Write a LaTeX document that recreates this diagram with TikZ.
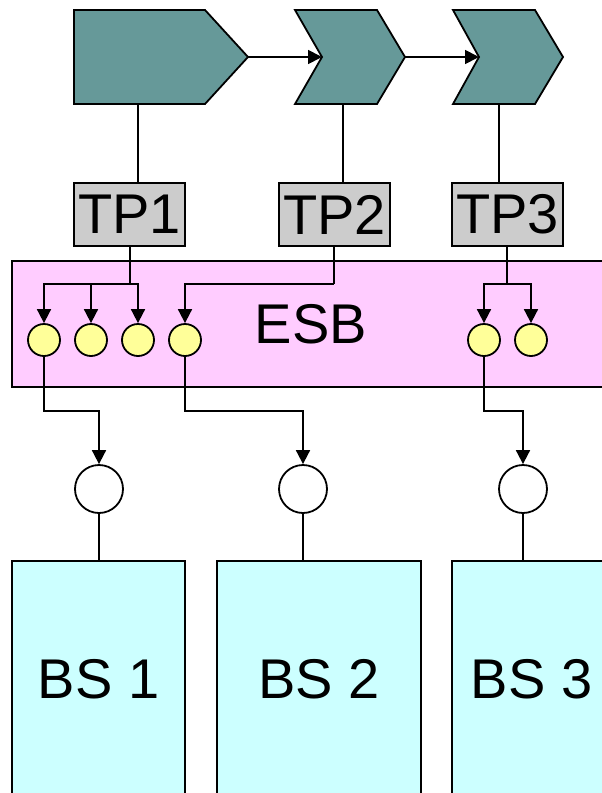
\documentclass[tikz,border=0pt]{standalone}
\usepackage{fontspec}
\setmainfont{Liberation Sans}
\usepackage{tikz}
\usepackage{xcolor}
\usetikzlibrary{arrows.meta}

\definecolor{stagecol}{RGB}{102,153,153}
\definecolor{tpcol}{RGB}{204,204,204}
\definecolor{esbcol}{RGB}{255,204,255}
\definecolor{portcol}{RGB}{255,255,153}
\definecolor{bscol}{RGB}{204,255,255}

\begin{document}
\begin{tikzpicture}[x=1pt,y=-1pt,line width=1.8pt,
    big/.style={font=\fontsize{56}{60}\selectfont,inner sep=0pt},
    stage/.style={draw,fill=stagecol,line join=miter},
    tpbox/.style={big,draw,fill=tpcol,minimum width=111pt,minimum height=63pt},
    port/.style={circle,draw,fill=portcol,minimum size=32pt,inner sep=0pt},
    endpt/.style={circle,draw,fill=white,minimum size=48pt,inner sep=0pt},
    bsbox/.style={big,draw,fill=bscol,minimum width=173pt,minimum height=236pt},
    arr/.style={-{Triangle[length=14pt,width=14pt]}}]
      \useasboundingbox (0,0) rectangle (602,793);
      \clip (0,0) rectangle (602,793);

      %draw the three stages
      \draw[stage] (74,10) -- (205,10) -- (248,57) -- (205,104) -- (74,104) -- cycle;
      \draw[stage] (295,10) -- (377,10) -- (405,57) -- (377,104) -- (295,104) -- (322,57) -- cycle;
      \draw[stage] (453,10) -- (535,10) -- (563,57) -- (535,104) -- (453,104) -- (479,57) -- cycle;

      \coordinate (S1tip) at (248,57);
      \coordinate (S2in) at (322,57);
      \coordinate (S2tip) at (405,57);
      \coordinate (S3in) at (479,57);
      \coordinate (S1bot) at (138,104);
      \coordinate (S2bot) at (343,104);
      \coordinate (S3bot) at (499,104);

      \draw[arr] (S1tip) -- (S2in);
      \draw[arr] (S2tip) -- (S3in);

      % the bus
      \node[big,draw,fill=esbcol,minimum width=598pt,minimum height=126pt] (ESB) at (311,324) {ESB};

      %write TP1, TP2, TP3
      \node[tpbox] (TP1) at (129.5,214.5) {TP1};
      \node[tpbox] (TP2) at (334.5,214.5) {TP2};
      \node[tpbox] (TP3) at (507.5,214.5) {TP3};

      \draw (S1bot) -- (S1bot |- TP1.north);
      \draw (S2bot) -- (S2bot |- TP2.north);
      \draw (S3bot) -- (S3bot |- TP3.north);

      % ports on the bus
      \node[port] (y1) at (44,340) {};
      \node[port] (y2) at (91,340) {};
      \node[port] (y3) at (138,340) {};
      \node[port] (y4) at (185,340) {};
      \node[port] (y5) at (484,340) {};
      \node[port] (y6) at (531,340) {};

      \coordinate (b1) at (130,284);
      \coordinate (b2) at (334,284);
      \coordinate (b3) at (507,284);

      \draw (b1 |- TP1.south) -- (b1);
      \draw[arr] (b1) -| (y1);
      \draw[arr] (b1) -| (y2);
      \draw[arr] (b1) -| (y3);
      \draw (b2 |- TP2.south) -- (b2);
      \draw[arr] (b2) -| (y4);
      \draw (b3 |- TP3.south) -- (b3);
      \draw[arr] (b3) -| (y5);
      \draw[arr] (b3) -| (y6);

      % end points and BS boxes
      \node[endpt] (w1) at (99,489) {};
      \node[endpt] (w2) at (303,489) {};
      \node[endpt] (w3) at (523,489) {};

      \coordinate (j1) at (99,411);
      \coordinate (j2) at (303,411);
      \coordinate (j3) at (523,411);

      \draw[arr] (y1) |- (j1) -- (w1);
      \draw[arr] (y4) |- (j2) -- (w2);
      \draw[arr] (y5) |- (j3) -- (w3);

      \node[bsbox] (BS1) at (98.5,679) {BS 1};
      \node[bsbox,minimum width=204pt] (BS2) at (319,679) {BS 2};
      \node[bsbox,minimum width=159pt] (BS3) at (531.5,679) {BS 3};

      \draw (w1) -- (w1 |- BS1.north);
      \draw (w2) -- (w2 |- BS2.north);
      \draw (w3) -- (w3 |- BS3.north);
    \end{tikzpicture}
\end{document}
